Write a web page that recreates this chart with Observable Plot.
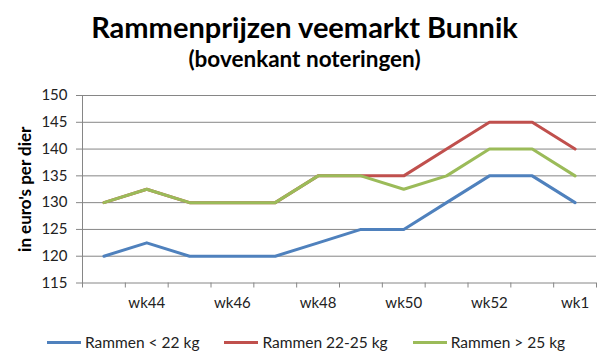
<!DOCTYPE html>
<html>
<head>
<meta charset="utf-8">
<script src="https://cdn.jsdelivr.net/npm/d3@7"></script>
<script src="https://cdn.jsdelivr.net/npm/@observablehq/plot@0.6"></script>
<style>
  body { margin: 0; background: #fff; }
  #wrap { position: relative; width: 609px; height: 363px; font-family: Lato, "Open Sans", sans-serif; color: #000; overflow: hidden; }
  #title { position: absolute; left: 0; width: 609px; top: 11px; text-align: center; font-weight: bold; font-size: 29px; line-height: 32px; }
  #subtitle { position: absolute; left: 0; width: 609px; top: 46px; text-align: center; font-weight: bold; font-size: 22.5px; line-height: 25px; }
  #chart { position: absolute; left: 0; top: 80px; }
  #legend { position: absolute; top: 333px; left: 47px; display: flex; align-items: center; font-size: 15.5px; color: #222; }
  .item { display: flex; align-items: center; margin-right: 25px; }
  .sw { width: 34px; height: 3px; margin-right: 4px; }
</style>
</head>
<body>
<div id="wrap">
  <div id="title">Rammenprijzen veemarkt Bunnik</div>
  <div id="subtitle">(bovenkant noteringen)</div>
  <div id="chart"></div>
  <div id="legend"></div>
</div>
<script>
const weeks = ["wk43","wk44","wk45","wk46","wk47","wk48","wk49","wk50","wk51","wk52","wk53","wk1"];
const tickLabels = ["wk44","wk46","wk48","wk50","wk52","wk1"];
const seriesNames = ["Rammen < 22 kg","Rammen 22-25 kg","Rammen > 25 kg"];
const light = [120, 122.5, 120, 120, 120, 122.5, 125, 125, 130, 135, 135, 130];
const medium = [130, 132.5, 130, 130, 130, 135, 135, 135, 140, 145, 145, 140];
const heavy = [130, 132.5, 130, 130, 130, 135, 135, 132.5, 135, 140, 140, 135];
const yTicks = [115, 120, 125, 130, 135, 140, 145, 150];
const colors = ["#4F81BD", "#C0504D", "#9BBB59"];

const seriesValues = [light, medium, heavy];
const data = [];
seriesValues.forEach((vals, s) => vals.forEach((v, i) => data.push({series: seriesNames[s], i, week: weeks[i], value: v})));

const n = weeks.length;
const boundaries = d3.range(-0.5, n, 1);
const labelIdx = tickLabels.map(t => weeks.indexOf(t));

const plot = Plot.plot({
  width: 609,
  height: 238,
  marginTop: 15,
  marginBottom: 35.5,
  marginLeft: 82,
  marginRight: 13,
  style: {fontFamily: "Lato, 'Open Sans', sans-serif", fontSize: "15px", color: "#222"},
  x: {type: "linear", domain: [-0.5, n - 0.5], axis: null},
  y: {domain: [115, 150], axis: null},
  color: {domain: seriesNames, range: colors},
  marks: [
    Plot.gridY(yTicks, {stroke: "#868686", strokeOpacity: 1, strokeWidth: 1}),
    Plot.frame({anchor: "left", stroke: "#868686", strokeOpacity: 1}),
    Plot.axisY(yTicks, {tickSize: 6, tickPadding: 9, stroke: "#868686", fontSize: 15, fill: "#222",
      label: "in euro's per dier", labelAnchor: "center", labelArrow: "none", labelOffset: 64}),
    Plot.axisX(boundaries, {tickSize: 5, stroke: "#868686", tickFormat: () => "", label: null}),
    Plot.axisX(labelIdx, {tickSize: 0, tickPadding: 14, tickFormat: i => weeks[i], fontSize: 15, fill: "#222", label: null}),
    Plot.line(data, {x: "i", y: "value", z: "series", stroke: "series", strokeWidth: 3, curve: "linear"})
  ]
});
// bold, larger y-axis label
plot.querySelectorAll("g[aria-label='y-axis label']").forEach(el => { el.style.fontWeight = "bold"; el.style.fill = "#000"; el.style.fontSize = "17px"; el.setAttribute("font-size", "17"); });
document.getElementById("chart").appendChild(plot);

const legend = document.getElementById("legend");
seriesNames.forEach((name, s) => {
  const item = document.createElement("div");
  item.className = "item";
  const sw = document.createElement("span");
  sw.className = "sw";
  sw.style.background = colors[s];
  const t = document.createElement("span");
  t.textContent = name;
  item.appendChild(sw); item.appendChild(t);
  legend.appendChild(item);
});
</script>
</body>
</html>
